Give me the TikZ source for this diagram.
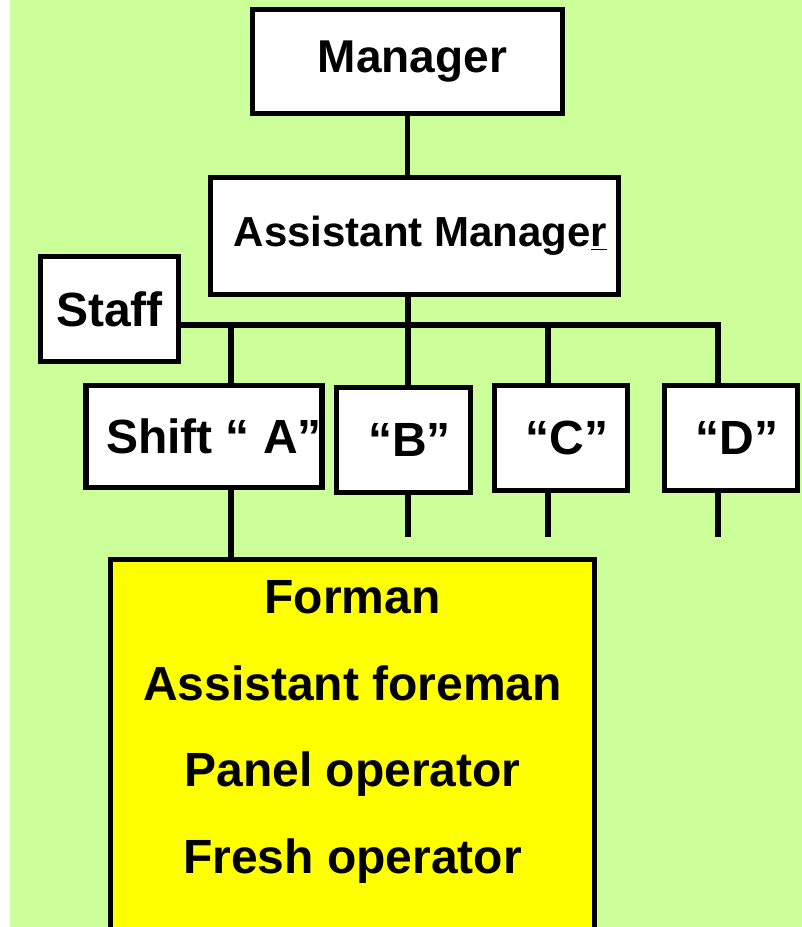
\documentclass[tikz,border=0pt]{standalone}
\usepackage{fontspec}
\setmainfont{Liberation Sans}
\usetikzlibrary{positioning}

\definecolor{bggreen}{HTML}{CCFF99}
\definecolor{crewyellow}{HTML}{FFFF00}

\begin{document}
\begin{tikzpicture}[
    x=0.5pt, y=-0.5pt,
    box/.style={rectangle, draw, line width=2.75pt, fill=white, inner sep=0pt, align=center, font=\bfseries\fontsize{24}{28}\selectfont},
    crew/.style={box, fill=crewyellow, inner ysep=10.75pt, text depth=30pt, font=\bfseries\fontsize{24}{43.3}\selectfont},
    link/.style={line width=2.75pt}
]

% Page and background
\useasboundingbox (0,0) rectangle (802,927);
\clip (0,0) rectangle (802,927);
\fill[bggreen] (10,0) rectangle (802,927);

% Top of the chart
\node[box, minimum width=155pt, minimum height=52pt, font=\bfseries\fontsize{23}{28}\selectfont] (mgr) at (407.5,61.5) {\hspace*{5pt}Manager};
\node[box, minimum width=204pt, minimum height=58.5pt, font=\bfseries\fontsize{21}{26}\selectfont] (asst) at (414.5,236) {\hspace*{6pt}Assistant Manage\underline{r}};
\node[box, minimum width=69pt, minimum height=52.5pt] (staff) at (109.5,309) {Staff};

% Shifts
\node[box, minimum width=116.5pt, minimum height=51pt] (shiftA) at (204,436.5) {\hspace*{10pt}Shift “ A”};
\node[box, minimum width=67pt, minimum height=52.5pt] (shiftB) at (403.5,440) {\hspace*{6pt}“B”};
\node[box, minimum width=66.5pt, minimum height=52.5pt] (shiftC) at (561,438) {\hspace*{6pt}“C”};
\node[box, minimum width=66.5pt, minimum height=52.5pt] (shiftD) at (731,438) {\hspace*{6pt}“D”};

% Crew of one shift
\node[crew, anchor=north, minimum width=242pt] (crew) at (352.5,556.5) {Forman\\Assistant foreman\\Panel operator\\Fresh operator};

% Bus and drop points
\coordinate (dropA) at (231,325);
\coordinate (dropB) at (408,325);
\coordinate (dropC) at (548,325);
\coordinate (dropD) at (718,325);
\coordinate (endB) at (408,537);
\coordinate (endC) at (548,537);
\coordinate (endD) at (718,537);

% Connections
\draw[link] (mgr.south) -- (mgr.south |- asst.north);
\draw[link] (dropB |- asst.south) -- (dropB |- shiftB.north);
\draw[link] (staff.east |- dropA) -- (dropD) -- (dropD |- shiftD.north);
\draw[link] (dropA) -- (dropA |- shiftA.north);
\draw[link] (dropC) -- (dropC |- shiftC.north);
\draw[link] (dropB |- shiftB.south) -- (endB);
\draw[link] (dropC |- shiftC.south) -- (endC);
\draw[link] (dropD |- shiftD.south) -- (endD);
\draw[link] (dropA |- shiftA.south) -- (dropA |- crew.north);

\end{tikzpicture}
\end{document}
